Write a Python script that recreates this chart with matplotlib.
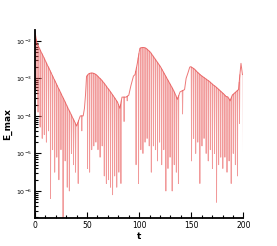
""" E_max history over t, log scale, tecplot-like axes """

import numpy as np
import matplotlib.pyplot as plt
from matplotlib.ticker import LogLocator, MultipleLocator, NullFormatter

# (t, log10 E_max), peak / trough alternating
# burst 1
t_b1 = [0, 1, 2, 3, 4, 5, 6, 7, 8, 9, 10, 11, 12, 13, 14, 15, 16, 17, 18, 19,
        20, 21, 22, 23, 24, 25, 26, 27, 28, 29, 30, 31, 32, 33, 34, 35, 36,
        37, 38, 39, 40]
le_b1 = [-1.75, -3.3, -2.07, -3.9, -2.18, -4.3, -2.3, -4.6, -2.41, -4.5,
         -2.53, -4.7, -2.65, -4.4, -2.76, -6.2, -2.88, -4.9, -3.0, -5.5,
         -3.11, -5.1, -3.23, -5.7, -3.34, -4.9, -3.46, -6.9, -3.57, -5.2,
         -3.69, -5.9, -3.81, -6.0, -3.92, -5.0, -4.04, -5.3, -4.15, -5.5,
         -4.27]

# slow part between burst 1 and 2
t_s1 = [41.5, 43.5, 45.0, 46.3, 47.5, 48.5]
le_s1 = [-5.8, -4.0, -4.4, -4.0, -3.8, -3.45]

t_b2 = [49.5, 50.5, 51.5, 52.5, 53.5, 54.5, 55.5, 56.5, 57.5, 58.5, 59.5,
        60.5, 61.5, 62.5, 63.5, 64.5, 65.5, 66.5, 67.5, 68.5, 69.5, 70.5,
        71.5, 72.5, 73.5, 74.5, 75.5, 76.5, 77.5, 78.5, 79.5, 80.5, 81.5,
        82.5]
le_b2 = [-2.95, -5.4, -2.88, -5.5, -2.86, -4.9, -2.86, -4.8, -2.88, -4.7,
         -2.92, -4.9, -2.98, -5.1, -3.03, -4.8, -3.1, -5.6, -3.17, -5.8,
         -3.25, -5.7, -3.32, -5.9, -3.4, -6.1, -3.48, -5.6, -3.56, -5.9,
         -3.65, -5.5, -3.8, -5.8]

t_s2 = [83.5, 85.5, 87.4, 88.5, 90.0, 92.0, 94.5, 96.0, 97.0]
le_s2 = [-3.5, -4.15, -3.5, -3.6, -3.45, -3.2, -2.94, -2.9, -5.3]

t_b3 = [98.2, 99.4, 100.6, 101.6, 102.6, 103.6, 104.6, 105.6, 106.6, 107.6,
        108.6, 109.6, 110.6, 111.6, 112.6, 113.6, 114.6, 115.6, 116.6, 117.6,
        118.6, 119.6, 120.6, 121.6, 122.6, 123.6, 124.6, 125.6, 126.6, 127.6,
        128.6, 129.6, 130.6, 131.6, 132.6, 133.6, 134.6, 135.6, 136.6, 137.6]
le_b3 = [-2.6, -5.8, -2.2, -4.9, -2.18, -5.0, -2.18, -4.7, -2.2, -4.6,
         -2.25, -4.8, -2.3, -5.5, -2.38, -4.8, -2.46, -4.9, -2.54, -5.2,
         -2.62, -4.7, -2.7, -5.3, -2.8, -4.9, -2.9, -6.0, -3.0, -5.4,
         -3.1, -5.1, -3.2, -6.0, -3.3, -5.3, -3.42, -5.5, -3.56, -5.8]

t_s3 = [139.2, 141.6, 143.5, 145.0, 146.7, 148.5, 149.4, 150.2]
le_s3 = [-3.36, -3.95, -3.3, -3.0, -2.86, -2.7, -2.69, -5.2]

t_b4 = [151.2, 152.2, 153.2, 154.2, 155.2, 156.2, 157.2, 158.2, 159.2, 160.2,
        161.2, 162.2, 163.2, 164.2, 165.2, 166.2, 167.2, 168.2, 169.2, 170.2,
        171.2, 172.2, 173.2, 174.2, 175.2, 176.2, 177.2, 178.2, 179.2, 180.2,
        181.2, 182.2, 183.2, 184.2]
le_b4 = [-2.72, -4.6, -2.76, -5.0, -2.82, -4.7, -2.87, -5.8, -2.92, -4.8,
         -2.96, -4.6, -3.0, -5.0, -3.04, -5.2, -3.08, -4.9, -3.13, -5.4,
         -3.18, -5.0, -3.22, -6.3, -3.27, -5.3, -3.32, -5.1, -3.37, -5.4,
         -3.42, -5.1, -3.48, -5.5]

# tail, weaker oscillations then last rise
t_s4 = [185.2, 186.2, 187.2, 188.2, 189.2, 190.2, 191.2, 192.2, 193.2, 194.2,
        195.2, 196.2, 197.6, 199.0, 200.0]
le_s4 = [-3.5, -5.2, -3.6, -5.8, -3.45, -5.0, -3.4, -5.3, -3.35, -5.6,
         -3.3, -4.2, -2.6, -2.9, -5.4]

x_ticks = [0, 50, 100, 150, 200]
line_color = "#e85555"


t = np.concatenate([t_b1, t_s1, t_b2, t_s2, t_b3, t_s3, t_b4, t_s4])
le = np.concatenate([le_b1, le_s1, le_b2, le_s2, le_b3, le_s3, le_b4, le_s4])

# split into the rounded crests and the sharp narrow dips
dip = np.zeros(len(le), dtype=bool)
dip[1:-1] = (le[1:-1] < le[:-2]) & (le[1:-1] < le[2:])
dip[-1] = le[-1] < le[-2]
crest_t, crest_le = t[~dip], le[~dip]

# each dip drawn as a narrow V hanging from the crest line
half_w = 0.35
td = t[dip]
left = np.interp(td - half_w, crest_t, crest_le)
right = np.interp(td + half_w, crest_t, crest_le)
v_t = np.column_stack([td - half_w, td, td + half_w,
                       np.full(len(td), np.nan)]).ravel()
v_le = np.column_stack([left, le[dip], right,
                        np.full(len(td), np.nan)]).ravel()

fig = plt.figure(figsize=(2.77, 2.46), dpi=100)
ax = fig.add_axes([0.126, 0.112, 0.753, 0.768])

ax.plot(crest_t, 10.0 ** crest_le, color=line_color, lw=0.7, alpha=0.8)
ax.plot(v_t, 10.0 ** v_le, color=line_color, lw=0.6, alpha=0.6)

ax.set_yscale("log")
ax.set_xlim(0, 200)
ax.set_ylim(10 ** -6.73, 10 ** -1.70)

ax.set_xticks(x_ticks)
ax.xaxis.set_minor_locator(MultipleLocator(10))
ax.yaxis.set_major_locator(LogLocator(base=10))
ax.yaxis.set_minor_locator(LogLocator(base=10, subs=np.arange(2, 10)))
ax.yaxis.set_minor_formatter(NullFormatter())

for side in ("top", "right"):
    ax.spines[side].set_visible(False)
for side in ("left", "bottom"):
    ax.spines[side].set_linewidth(1.3)

ax.tick_params(which="both", direction="in", width=0.8)
ax.tick_params(which="major", length=4)
ax.tick_params(which="minor", length=2)
ax.tick_params(axis="x", labelsize=5.5, pad=2)
ax.tick_params(axis="y", labelsize=4.5, pad=2)

ax.set_xlabel("t", fontsize=6.5, fontweight="bold", labelpad=1)
ax.set_ylabel("E_max", fontsize=6.5, fontweight="bold", labelpad=3)

fig.savefig("out.png", dpi=100)
